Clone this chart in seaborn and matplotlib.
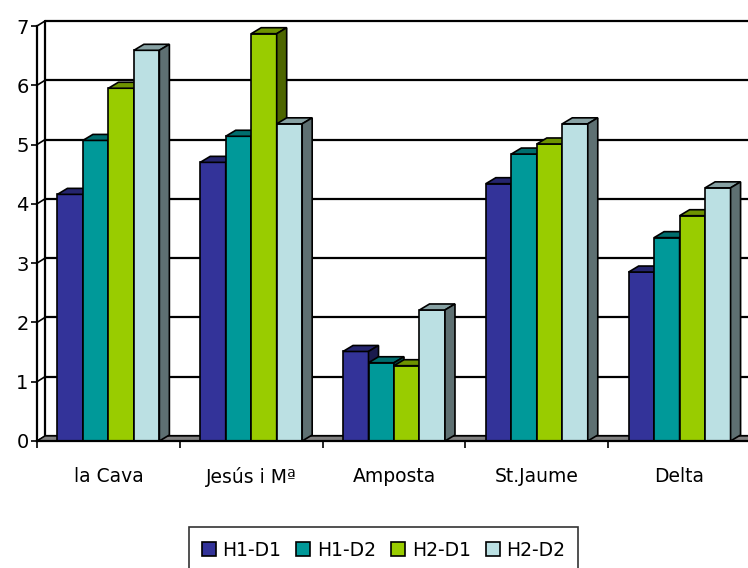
import matplotlib
matplotlib.use("Agg")
import matplotlib.pyplot as plt
from matplotlib.patches import Polygon, Patch
from matplotlib.colors import to_rgb
import seaborn as sns
import pandas as pd

# ---- data ----
categories = ["la Cava", "Jesús i Mª", "Amposta", "St.Jaume", "Delta"]
series = ["H1-D1", "H1-D2", "H2-D1", "H2-D2"]
h1_d1 = [4.16, 4.70, 1.51, 4.34, 2.85]
h1_d2 = [5.07, 5.14, 1.32, 4.84, 3.43]
h2_d1 = [5.95, 6.87, 1.27, 5.01, 3.80]
h2_d2 = [6.59, 5.35, 2.21, 5.35, 4.27]
y_ticks = [0, 1, 2, 3, 4, 5, 6, 7]

colors = ["#333399", "#009999", "#99CC00", "#BBE0E3"]

rows = []
for name, vals in zip(series, [h1_d1, h1_d2, h2_d1, h2_d2]):
    for cat, v in zip(categories, vals):
        rows.append({"site": cat, "serie": name, "valor": v})
df = pd.DataFrame(rows)

sns.set_style("white")
plt.rcParams["font.family"] = ["DejaVu Sans"]
plt.rcParams["text.color"] = "black"
plt.rcParams["xtick.color"] = "black"
plt.rcParams["ytick.color"] = "black"
plt.rcParams["axes.labelcolor"] = "black"

W, H = 748, 568
fig = plt.figure(figsize=(W / 100, H / 100), dpi=100)
ax_left, ax_bottom = 37 / W, (H - 441) / H
ax_w, ax_h = 714 / W, 415 / H
ax = fig.add_axes([ax_left, ax_bottom, ax_w, ax_h])

sns.barplot(data=df, x="site", y="valor", hue="serie", order=categories,
            hue_order=series, palette=colors, saturation=1, width=0.714,
            gap=0, edgecolor="black", linewidth=1.2, legend=False, ax=ax,
            errorbar=None)

ax.set_xlim(-0.5, len(categories) - 0.5)
ax.set_ylim(0, 7)

# pixel -> data conversion for the depth offsets
px_x = (ax_w * W) / (len(categories))
px_y = (ax_h * H) / 7.0
bar_dx, bar_dy = 10 / px_x, 6 / px_y      # bar depth
wall_dx, wall_dy = 8 / px_x, 5 / px_y     # back wall offset

def shade(c, f):
    r, g, b = to_rgb(c)
    return (r * f, g * f, b * f)

# 3D faces for each bar, drawn in left-to-right order
bars = [p for p in ax.patches]
bars.sort(key=lambda p: p.get_x())
for k, p in enumerate(bars):
    z = 2 + 0.01 * k
    p.set_zorder(z)
    x0, w, h = p.get_x(), p.get_width(), p.get_height()
    x1 = x0 + w
    fc = p.get_facecolor()
    top = Polygon([(x0, h), (x1, h), (x1 + bar_dx, h + bar_dy), (x0 + bar_dx, h + bar_dy)],
                  closed=True, facecolor=shade(fc[:3], 0.72), edgecolor="black",
                  linewidth=1.2, zorder=z + 0.005, clip_on=False)
    side = Polygon([(x1, 0), (x1 + bar_dx, bar_dy), (x1 + bar_dx, h + bar_dy), (x1, h)],
                   closed=True, facecolor=shade(fc[:3], 0.5), edgecolor="black",
                   linewidth=1.2, zorder=z + 0.005, clip_on=False)
    ax.add_patch(top)
    ax.add_patch(side)

# floor
xa, xb = -0.5, len(categories) - 0.5
floor = Polygon([(xa, 0), (xb + 1, 0), (xb + 1 + wall_dx, wall_dy), (xa + wall_dx, wall_dy)],
                closed=True, facecolor="#808080", edgecolor="black", linewidth=1.0,
                zorder=1, clip_on=False)
ax.add_patch(floor)

# back wall and side wall gridlines
for t in y_ticks:
    ax.plot([xa + wall_dx, xb + 1], [t + wall_dy, t + wall_dy], color="black",
            lw=1.6, zorder=0.5, clip_on=False)
    ax.plot([xa, xa + wall_dx], [t, t + wall_dy], color="black", lw=1.2,
            zorder=0.5, clip_on=False)
ax.plot([xa + wall_dx, xa + wall_dx], [wall_dy, 7 + wall_dy], color="black",
        lw=1.6, zorder=0.5, clip_on=False)

# axes styling
for s in ["top", "right"]:
    ax.spines[s].set_visible(False)
for s in ["left", "bottom"]:
    ax.spines[s].set_color("black")
    ax.spines[s].set_linewidth(1.6)
    ax.spines[s].set_zorder(5)

ax.set_yticks(y_ticks)
ax.set_yticklabels([str(t) for t in y_ticks])
ax.tick_params(axis="y", direction="out", length=4.5, width=1.2, pad=1.5,
               labelsize=14, labelcolor="black", left=True)
ax.set_xticks(range(len(categories)))
ax.set_xticklabels(categories)
ax.tick_params(axis="x", which="major", length=0, pad=19, labelsize=13.5,
               labelcolor="black")
ax.set_xticks([i - 0.5 for i in range(len(categories) + 1)], minor=True)
ax.tick_params(axis="x", which="minor", direction="out", length=5, width=1.2,
               bottom=True)
ax.set_xlabel("")
ax.set_ylabel("")
ax.grid(False)

handles = [Patch(facecolor=c, edgecolor="black", linewidth=1.2, label=s)
           for c, s in zip(colors, series)]
leg = fig.legend(handles=handles, loc="center", ncol=4,
                 bbox_to_anchor=(383.5 / W, 1 - 550 / H), frameon=True,
                 fancybox=False, edgecolor="black", fontsize=13.5,
                 handlelength=0.75, handleheight=0.75, handletextpad=0.35,
                 columnspacing=0.8, borderpad=0.7, borderaxespad=0)
leg.get_frame().set_linewidth(1.2)
for txt in leg.get_texts():
    txt.set_color("black")

fig.savefig("out.png", dpi=100)
